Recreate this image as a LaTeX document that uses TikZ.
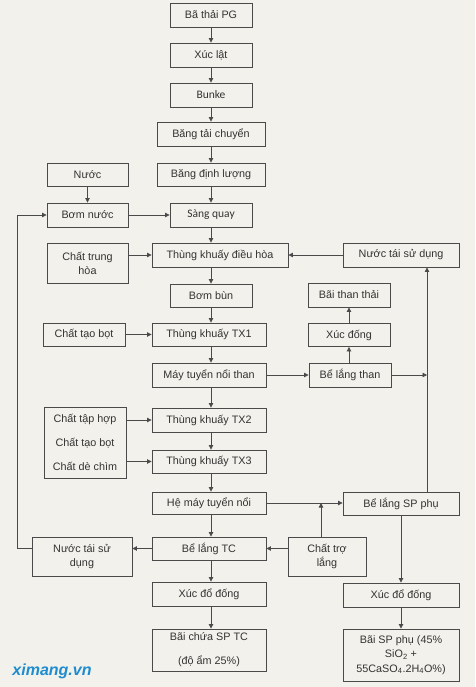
\documentclass[tikz,border=0pt]{standalone}
\usepackage{fontspec}
\setmainfont{Liberation Sans}
\newfontfamily\calib{Carlito}
\usetikzlibrary{arrows.meta}
\definecolor{bgc}{HTML}{F2F1EB}
\definecolor{linec}{HTML}{4A4A4A}
\definecolor{txc}{HTML}{333333}
\definecolor{logoc}{HTML}{1E8CCF}
\begin{document}
\begin{tikzpicture}[x=1pt,y=-1pt,
 box/.style={draw=linec, line width=0.9pt, fill=bgc, text=txc, font=\fontsize{10.8}{14}\selectfont, inner sep=0pt, align=center},
 sz/.style 2 args={minimum width=#1pt, minimum height=#2pt},
 arr/.style={draw=linec, line width=0.8pt, -{Triangle[length=4.5pt,width=4.5pt]}}]
\fill[bgc] (0,0) rectangle (475,687);
\useasboundingbox (0,0) rectangle (475,687);
\coordinate (col) at (211,0);
\coordinate (lp) at (17,0);
\coordinate (j) at (427,375);
\coordinate (k) at (321,503);
% main column
\node[box, sz={82}{24}] (pg) at (211,15) {Bã thải PG};
\node[box, sz={82}{24}] (xuc) at (211,55) {Xúc lật};
\node[box, sz={82}{24}] (bunke) at (211,95) {\calib\fontsize{11.5}{14}\selectfont Bunke};
\node[box, sz={108}{24}] (btc) at (211,134) {Băng tải chuyển};
\node[box, sz={108}{23}] (bdl) at (211,174.5) {Băng định lượng};
\node[box, sz={81}{23}] (nuoc) at (87.5,174.5) {Nước};
\node[box, sz={81}{24}] (bomnuoc) at (87.5,215) {Bơm nước};
\node[box, sz={82}{24}] (sang) at (211,215) {\calib\fontsize{11.5}{14}\selectfont Sàng quay};
\node[box, sz={81}{40}] (cth) at (87.5,263) {Chất trung\\hòa};
\node[box, sz={136}{24}] (tkdh) at (220,255) {Thùng khuấy điều hòa};
\node[box, sz={116}{24}] (ntsd1) at (401,255) {Nước tái sử dụng};
\node[box, sz={82}{23}] (bombun) at (211,295.5) {Bơm bùn};
\node[box, sz={82}{24}] (btt) at (349,295) {Bãi than thải};
\node[box, sz={82}{23}] (ctb) at (84,334.5) {Chất tạo bọt};
\node[box, sz={114}{23}] (tx1) at (209,334.5) {Thùng khuấy TX1};
\node[box, sz={82}{23}] (xucdong) at (349,335) {Xúc đống};
\node[box, sz={114}{24}] (mtnt) at (209,375) {Máy tuyển nổi than};
\node[box, sz={82}{24}] (blt) at (350,375) {Bể lắng than};
\node[box, sz={82}{71}] (group) at (85,442.5) {Chất tập hợp\\[10pt]Chất tạo bọt\\[10pt]Chất dè chìm};
\node[box, sz={114}{24}] (tx2) at (209,420) {Thùng khuấy TX2};
\node[box, sz={114}{23}] (tx3) at (209,461.5) {Thùng khuấy TX3};
\node[box, sz={114}{22}] (hmtn) at (209,503) {Hệ máy tuyển nổi};
\node[box, sz={116}{23}] (blsp) at (401,503.5) {Bể lắng SP phụ};
\node[box, sz={100}{39}] (ntsd2) at (82,556.5) {Nước tái sử\\dụng};
\node[box, sz={114}{23}] (bltc) at (209,548.5) {Bể lắng TC};
\node[box, sz={78}{39}] (ctl) at (327,556.5) {Chất trợ\\lắng};
\node[box, sz={114}{24}] (xdd1) at (209,594) {Xúc đổ đống};
\node[box, sz={114}{42}] (bcsp) at (209,650) {Bãi chứa SP TC\\[10pt](độ ẩm 25\%)};
\node[box, sz={116}{24}] (xdd2) at (401,595) {Xúc đổ đống};
\node[box, sz={116}{52}, font=\fontsize{10.8}{14.5}\selectfont] (bsp) at (401,655) {Bãi SP phụ (45\%\\SiO\textsubscript{2} +\\55CaSO\textsubscript{4}.2H\textsubscript{4}O\%)};
\node[text=logoc, font=\fontsize{16}{16}\selectfont\bfseries\itshape] (logo) at (52,671) {ximang.vn};
% vertical main flow
\draw[arr] (pg) -- (xuc);
\draw[arr] (xuc) -- (bunke);
\draw[arr] (bunke) -- (btc);
\draw[arr] (btc) -- (bdl);
\draw[arr] (bdl) -- (sang);
\draw[arr] (sang.south) -- (sang.south |- tkdh.north);
\draw[arr] (bombun.north |- tkdh.south) -- (bombun.north);
\draw[arr] (bombun.south) -- (bombun.south |- tx1.north);
\draw[arr] (tx1.south -| col) -- (mtnt.north -| col);
\draw[arr] (mtnt.south -| col) -- (tx2.north -| col);
\draw[arr] (tx2.south -| col) -- (tx3.north -| col);
\draw[arr] (tx3.south -| col) -- (hmtn.north -| col);
\draw[arr] (hmtn.south -| col) -- (bltc.north -| col);
\draw[arr] (bltc.south -| col) -- (xdd1.north -| col);
\draw[arr] (xdd1.south -| col) -- (bcsp.north -| col);
% side inputs
\draw[arr] (nuoc) -- (bomnuoc);
\draw[arr] (bomnuoc) -- (sang);
\draw[arr] (cth.east |- tkdh.west) -- (tkdh.west);
\draw[arr] (ntsd1) -- (tkdh);
\draw[arr] (ctb) -- (tx1);
\draw[arr] (group.east |- tx2.west) -- (tx2.west);
\draw[arr] (group.east |- tx3.west) -- (tx3.west);
% right branch
\draw[arr] (mtnt) -- (blt);
\draw[arr] (blt.north -| xucdong) -- (xucdong.south);
\draw[arr] (xucdong) -- (btt);
\draw[arr] (blt.east) -- (j);
\draw[arr] (blsp.north -| j) -- (ntsd1.south -| j);
\draw[arr] (hmtn.east) -- (blsp.west |- hmtn.east);
\draw[arr] (ctl.north -| k) -- (k);
\draw[arr] (ctl.west |- bltc.east) -- (bltc.east);
\draw[arr] (blsp) -- (xdd2);
\draw[arr] (xdd2) -- (bsp);
% recycle loop
\draw[arr] (bltc.west) -- (ntsd2.east |- bltc.west);
\draw[arr] (ntsd2.west |- bltc.west) -- (bltc.west -| lp) |- (bomnuoc.west);
\end{tikzpicture}
\end{document}
